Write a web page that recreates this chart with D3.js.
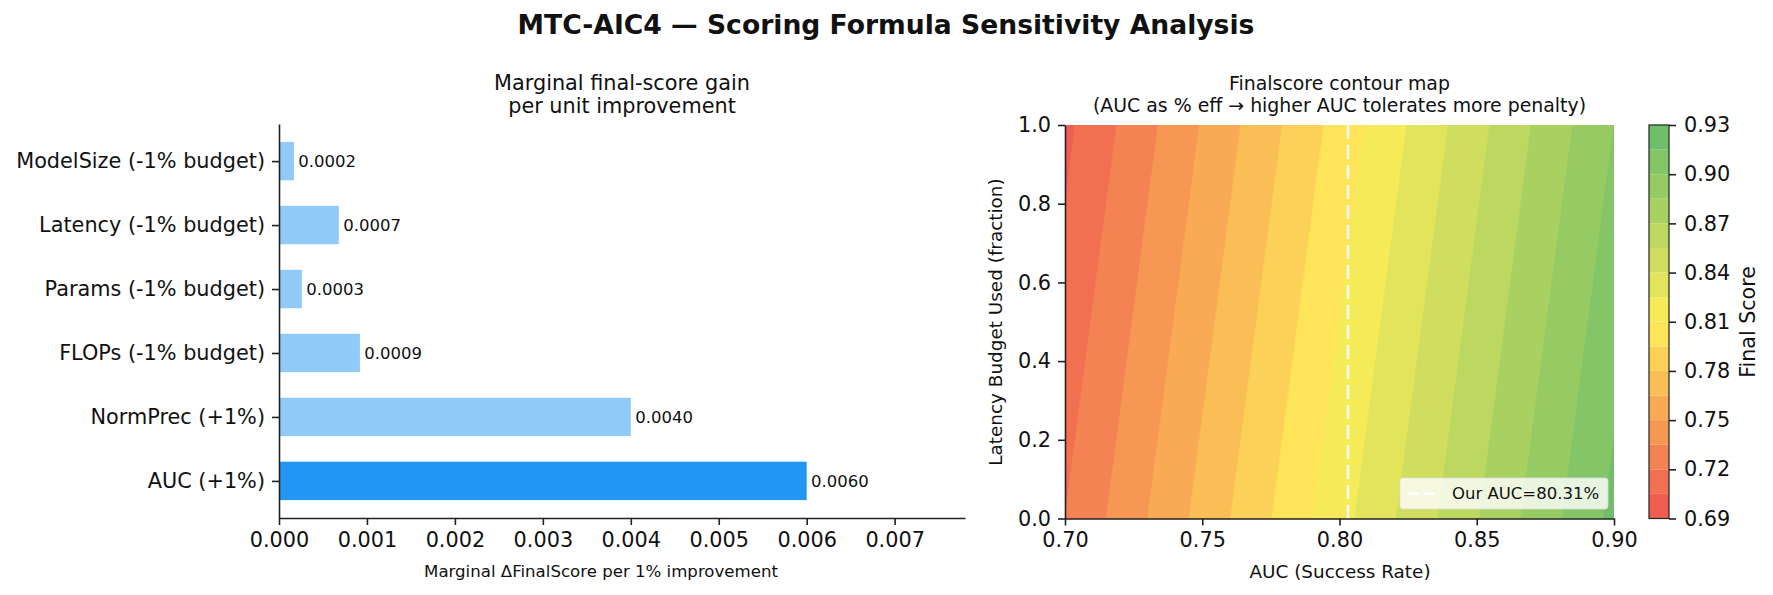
<!DOCTYPE html>
<html>
<head>
<meta charset="utf-8">
<script src="https://cdn.jsdelivr.net/npm/d3@7"></script>
<style>
  body { margin: 0; background: #fff; }
  svg { display: block; font-family: "DejaVu Sans", sans-serif; }
</style>
</head>
<body>
<svg id="chart" width="1773" height="595"></svg>
<script>
// ---- left panel: marginal gain per 1% (bottom -> top)
const barLabels = ["AUC (+1%)", "NormPrec (+1%)", "FLOPs (-1% budget)", "Params (-1% budget)", "Latency (-1% budget)", "ModelSize (-1% budget)"];
const barValues = [0.0060, 0.0040, 0.00092, 0.00026, 0.00068, 0.00017];
const barTicks = [0, 0.001, 0.002, 0.003, 0.004, 0.005, 0.006, 0.007];

// ---- right panel: final score
const aucGrid = [0.70, 0.75, 0.80, 0.85, 0.90];
const latGrid = [0.0, 0.5, 1.0];
const scoreGrid = [
  [0.7202, 0.7699, 0.8196, 0.8692, 0.9189],  // latency 0.0
  [0.7108, 0.7605, 0.8102, 0.8598, 0.9095],  // latency 0.5
  [0.7014, 0.7511, 0.8008, 0.8504, 0.9001]   // latency 1.0
];
const levels = [0.69, 0.705, 0.72, 0.735, 0.75, 0.765, 0.78, 0.795, 0.81, 0.825, 0.84, 0.855, 0.87, 0.885, 0.90, 0.915, 0.93];
const cbarTicks = [0.69, 0.72, 0.75, 0.78, 0.81, 0.84, 0.87, 0.90, 0.93];
const xTicksAuc = [0.70, 0.75, 0.80, 0.85, 0.90];
const yTicksLat = [0.0, 0.2, 0.4, 0.6, 0.8, 1.0];
const ourAuc = 0.8031;

const svg = d3.select("#chart");
const ink = "#111";
const tickFont = 20.8;

svg.append("text")
  .attr("x", 886).attr("y", 34)
  .attr("text-anchor", "middle")
  .attr("font-size", 26.6).attr("font-weight", "bold").attr("fill", ink)
  .text("MTC-AIC4 \u2014 Scoring Formula Sensitivity Analysis");

function styleAxis(g, size) {
  g.attr("font-family", null).attr("font-size", size);
  g.selectAll("path.domain").attr("stroke", "#222").attr("stroke-width", 1.6);
  g.selectAll(".tick line").attr("stroke", "#222").attr("stroke-width", 1.6);
  g.selectAll(".tick text").attr("fill", ink);
}

// ================= bar chart =================
const bx = d3.scaleLinear().domain([0, 0.0078]).range([279, 965]);
const by = d3.scaleLinear().domain([-0.58, 5.58]).range([518, 124]);
const barH = 0.6;

const left = svg.append("g");

left.selectAll("rect.bar")
  .data(barValues)
  .join("rect")
  .attr("class", "bar")
  .attr("x", bx(0))
  .attr("y", (d, i) => by(i + barH / 2))
  .attr("width", d => bx(d) - bx(0))
  .attr("height", by(0) - by(barH))
  .attr("fill", (d, i) => i === 0 ? "#2196F3" : "#90CAF9");

left.selectAll("text.val")
  .data(barValues)
  .join("text")
  .attr("class", "val")
  .attr("x", d => bx(d + 0.00005))
  .attr("y", (d, i) => by(i))
  .attr("dy", "0.35em")
  .attr("font-size", 16.5).attr("fill", ink)
  .text(d => d.toFixed(4));

left.append("g")
  .attr("transform", "translate(0,518)")
  .call(d3.axisBottom(bx).tickValues(barTicks).tickFormat(d3.format(".3f")).tickSize(7).tickSizeOuter(0).tickPadding(7))
  .call(g => styleAxis(g, tickFont));

left.append("g")
  .attr("transform", "translate(279,0)")
  .call(d3.axisLeft(by).tickValues(d3.range(barLabels.length)).tickFormat(i => barLabels[i]).tickSize(7).tickSizeOuter(0).tickPadding(7))
  .call(g => styleAxis(g, tickFont));

left.append("text")
  .attr("x", 601).attr("y", 577)
  .attr("text-anchor", "middle").attr("font-size", 16.6).attr("fill", ink)
  .text("Marginal \u0394FinalScore per 1% improvement");

left.append("text")
  .attr("text-anchor", "middle").attr("font-size", 20.8).attr("fill", ink)
  .selectAll("tspan")
  .data(["Marginal final-score gain", "per unit improvement"])
  .join("tspan")
  .attr("x", 622)
  .attr("y", (d, i) => 90 + i * 23)
  .text(d => d);

// ================= contour map =================
const cx = d3.scaleLinear().domain([0.70, 0.90]).range([1065, 1614]);
const cy = d3.scaleLinear().domain([0, 1]).range([518.5, 125]);

const cmap = d3.piecewise(d3.interpolateRgb, ["#EF5350", "#FFEE58", "#66BB6A"]);
const bandColor = t => cmap((t + (levels[1] - levels[0]) / 2 - levels[0]) / (levels[levels.length - 1] - levels[0]));

const right = svg.append("g");

right.append("clipPath").attr("id", "plotClip")
  .append("rect")
  .attr("x", cx(0.70)).attr("y", cy(1))
  .attr("width", cx(0.90) - cx(0.70)).attr("height", cy(0) - cy(1));

// grid sample i sits at grid coordinate i + 0.5 in d3.contours
const gx = d3.scaleLinear().domain([0.5, aucGrid.length - 0.5]).range([cx(aucGrid[0]), cx(aucGrid[aucGrid.length - 1])]);
const gy = d3.scaleLinear().domain([0.5, latGrid.length - 0.5]).range([cy(latGrid[0]), cy(latGrid[latGrid.length - 1])]);
const proj = d3.geoTransform({ point(x, y) { this.stream.point(gx(x), gy(y)); } });
const path = d3.geoPath(proj);

const bands = d3.contours()
  .size([aucGrid.length, latGrid.length])
  .thresholds(levels.slice(0, -1))(scoreGrid.flat());

right.append("g")
  .attr("clip-path", "url(#plotClip)")
  .selectAll("path")
  .data(bands)
  .join("path")
  .attr("d", path)
  .attr("fill", d => bandColor(d.value));

// our AUC marker
right.append("line")
  .attr("x1", cx(ourAuc)).attr("x2", cx(ourAuc))
  .attr("y1", cy(1)).attr("y2", cy(0))
  .attr("stroke", "#fff").attr("stroke-width", 2.6)
  .attr("stroke-dasharray", "14,6").attr("opacity", 0.9);

right.append("g")
  .attr("transform", "translate(0,518.5)")
  .call(d3.axisBottom(cx).tickValues(xTicksAuc).tickFormat(d3.format(".2f")).tickSize(7).tickSizeOuter(0).tickPadding(7))
  .call(g => styleAxis(g, tickFont));

right.append("g")
  .attr("transform", "translate(1065,0)")
  .call(d3.axisLeft(cy).tickValues(yTicksLat).tickFormat(d3.format(".1f")).tickSize(7).tickSizeOuter(0).tickPadding(7))
  .call(g => styleAxis(g, tickFont));

right.append("text")
  .attr("x", 1340).attr("y", 578)
  .attr("text-anchor", "middle").attr("font-size", 18.4).attr("fill", ink)
  .text("AUC (Success Rate)");

right.append("text")
  .attr("transform", "translate(996,322) rotate(-90)")
  .attr("text-anchor", "middle").attr("dy", "0.35em")
  .attr("font-size", 18.4).attr("fill", ink)
  .text("Latency Budget Used (fraction)");

right.append("text")
  .attr("text-anchor", "middle").attr("font-size", 18.9).attr("fill", ink)
  .selectAll("tspan")
  .data(["Finalscore contour map", "(AUC as % eff \u2192 higher AUC tolerates more penalty)"])
  .join("tspan")
  .attr("x", 1339.5)
  .attr("y", (d, i) => 90 + i * 21.5)
  .text(d => d);

// legend
const lg = right.append("g").attr("transform", "translate(1400,478)");
lg.append("rect")
  .attr("width", 208).attr("height", 31).attr("rx", 3)
  .attr("fill", "#fff").attr("fill-opacity", 0.8)
  .attr("stroke", "#ddd").attr("stroke-opacity", 0.8);
lg.append("line")
  .attr("x1", 8).attr("x2", 37).attr("y1", 15.5).attr("y2", 15.5)
  .attr("stroke", "#fff").attr("stroke-width", 2.6)
  .attr("stroke-dasharray", "11,5");
lg.append("text")
  .attr("x", 52).attr("y", 15.5).attr("dy", "0.35em")
  .attr("font-size", 16.5).attr("fill", ink)
  .text("Our AUC=" + (ourAuc * 100).toFixed(2) + "%");

// colorbar
const cb = d3.scaleLinear().domain([levels[0], levels[levels.length - 1]]).range([518.5, 125]);
const cbar = svg.append("g");
cbar.selectAll("rect.band")
  .data(levels.slice(0, -1))
  .join("rect")
  .attr("class", "band")
  .attr("x", 1649).attr("width", 20)
  .attr("y", (d, i) => cb(levels[i + 1]))
  .attr("height", (d, i) => cb(levels[i]) - cb(levels[i + 1]))
  .attr("fill", d => bandColor(d));
cbar.append("rect")
  .attr("x", 1649).attr("y", 125).attr("width", 20).attr("height", 393.5)
  .attr("fill", "none").attr("stroke", "#222").attr("stroke-width", 1.2);
cbar.append("g")
  .attr("transform", "translate(1669,0)")
  .call(d3.axisRight(cb).tickValues(cbarTicks).tickFormat(d3.format(".2f")).tickSize(7).tickSizeOuter(0).tickPadding(8))
  .call(g => { styleAxis(g, tickFont); g.select("path.domain").remove(); });
cbar.append("text")
  .attr("transform", "translate(1748,322) rotate(-90)")
  .attr("text-anchor", "middle").attr("dy", "0.35em")
  .attr("font-size", 20.6).attr("fill", ink)
  .text("Final Score");
</script>
</body>
</html>
